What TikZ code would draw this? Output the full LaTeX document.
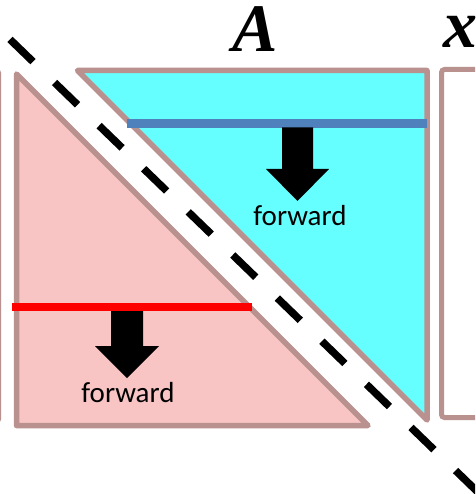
\documentclass[tikz,border=0pt]{standalone}
\usepackage{fontspec}
\newfontfamily\labelfont{Carlito}
\newfontfamily\mathlikefont{Liberation Serif}
\definecolor{edgebrown}{RGB}{185,145,142}
\definecolor{pinkfill}{RGB}{248,196,196}
\definecolor{cyanfill}{RGB}{102,255,255}
\definecolor{lineblue}{RGB}{79,129,189}
\definecolor{linered}{RGB}{255,0,0}
\tikzset{
  tri/.style={draw=edgebrown, line width=5.5pt, line join=round},
  sweep/.style={line width=8.5pt},
  fwdarrow/.style={fill=black, draw=none},
  fwdlabel/.style={font=\labelfont\fontsize{29}{29}\selectfont, inner sep=0pt, anchor=base},
  biglabel/.style={font=\mathlikefont\bfseries\itshape\fontsize{68}{68}\selectfont, inner sep=0pt},
  diag/.style={black, line width=7.5pt, dash pattern=on 32pt off 30pt},
}
\begin{document}
\begin{tikzpicture}[x=1pt,y=-1pt]
\useasboundingbox (0,0) rectangle (475,494);
\clip (0,0) rectangle (475,494);
% partial box at left
\draw[draw=edgebrown, line width=5pt, rounded corners=3pt, fill=white] (-100,70) rectangle (-1.5,422);
% lower (pink) triangle
\draw[tri, fill=pinkfill] (16.5,74) -- (16.5,425.5) -- (368,425.5) -- cycle;
% upper (cyan) triangle
\draw[tri, fill=cyanfill] (77.5,70.5) -- (427,70.5) -- (427,420) -- cycle;
% right box x
\draw[draw=edgebrown, line width=5pt, rounded corners=3pt, fill=white] (441.5,69.5) rectangle (560,417.5);
% sweep lines
\coordinate (b1) at (127,123.5);
\coordinate (b2) at (427,123.5);
\draw[sweep, lineblue] (b1) -- (b2);
\coordinate (r1) at (12,307);
\coordinate (r2) at (252,307);
\draw[sweep, linered] (r1) -- (r2);
% forward arrows
\fill[fwdarrow] (282,127.5) -- (313,127.5) -- (313,169) -- (329,169) -- (297.5,201) -- (266,169) -- (282,169) -- cycle;
\fill[fwdarrow] (111,311) -- (143,311) -- (143,346) -- (159,346) -- (127,378) -- (95,346) -- (111,346) -- cycle;
% labels
\node[fwdlabel] (fwdA) at (300,225) {forward};
\node[fwdlabel] (fwdB) at (128,402) {forward};
\node[biglabel, anchor=base] (labA) at (255,52) {A};
\node[biglabel, anchor=base west] (labx) at (443,48) {x};
% dashed diagonal
\coordinate (d1) at (10,39.4);
\coordinate (d2) at (520,532.9);
\draw[diag] (d1) -- (d2);
\end{tikzpicture}
\end{document}
